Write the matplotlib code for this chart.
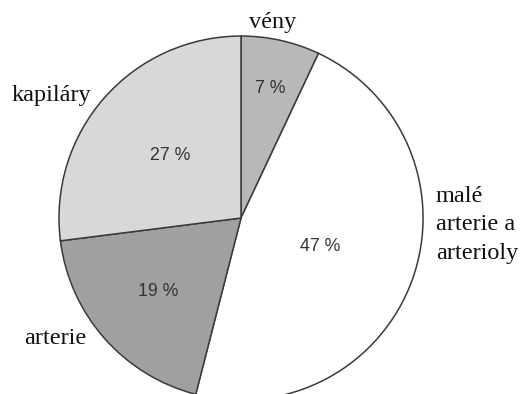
import matplotlib
matplotlib.use("Agg")
import matplotlib.pyplot as plt
import numpy as np

# share of blood volume per vessel group, clockwise from 12 o'clock
labels = ["vény", "malé\narterie a\narterioly", "arterie", "kapiláry"]
shares = [7, 47, 19, 27]
colors = ["#b8b8b8", "#ffffff", "#a0a0a0", "#d8d8d8"]

# where the text sits for each wedge (radius in pie units, angle in deg)
pct_radius = [0.73, 0.46, 0.61, 0.52]
name_radius = [1.09, 1.07, 1.22, 1.24]
name_angle = [80.7, -2.0, 213.0, 147.0]
name_ha = ["center", "left", "center", "center"]

fig = plt.figure(figsize=(5.23, 3.94), dpi=100)
ax = fig.add_axes([0, 0, 1, 1])

wedges, _ = ax.pie(shares, colors=colors, startangle=90, counterclock=False,
                   radius=1.0,
                   wedgeprops=dict(edgecolor="#3a3a3a", linewidth=1.1))

for w, v, r in zip(wedges, shares, pct_radius):
    mid = np.deg2rad((w.theta1 + w.theta2) / 2)
    ax.text(r * np.cos(mid), r * np.sin(mid), f"{v} %", ha="center",
            va="center", fontsize=12.8, color="#333333",
            family="Liberation Sans")

for lab, r, a, ha in zip(labels, name_radius, name_angle, name_ha):
    t = np.deg2rad(a)
    ax.text(r * np.cos(t), r * np.sin(t), lab, ha=ha, va="center",
            fontsize=17.5, color="#111111", family="Liberation Serif",
            linespacing=1.45)

ax.set_xlim(-1.324, 1.549)
ax.set_ylim(-0.967, 1.198)
ax.set_aspect("auto")
ax.axis("off")

fig.savefig("out.png", dpi=100)
